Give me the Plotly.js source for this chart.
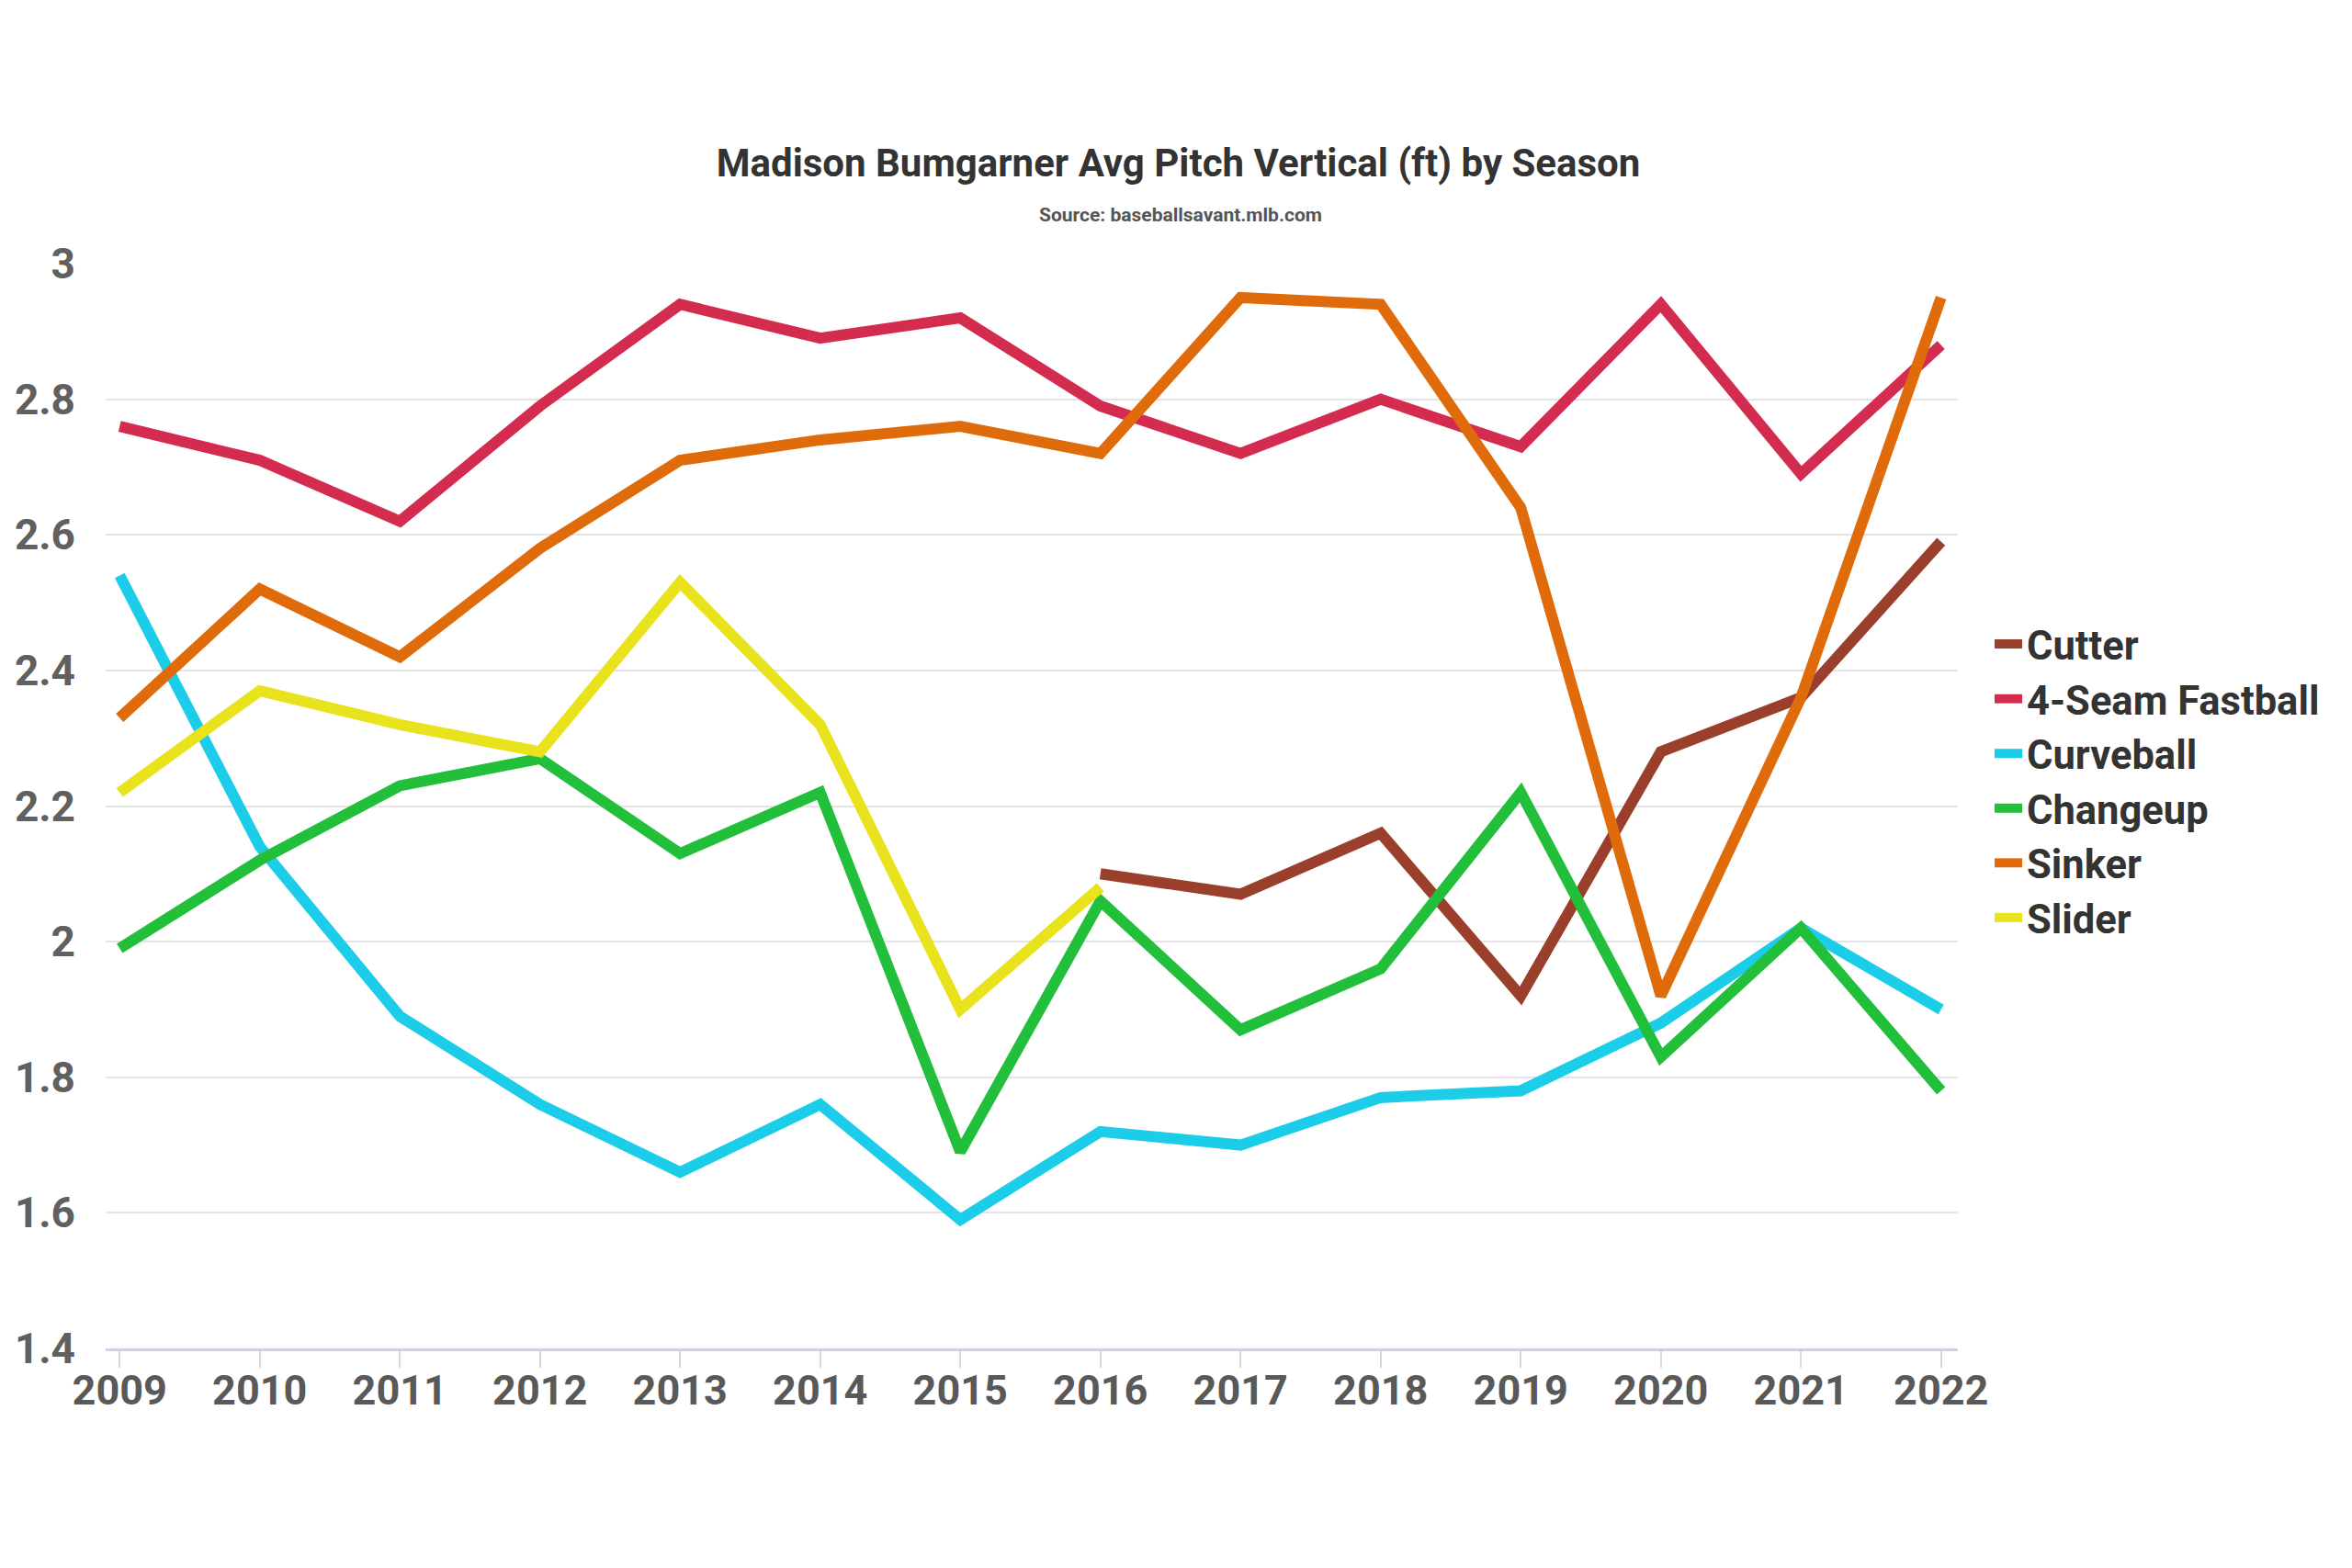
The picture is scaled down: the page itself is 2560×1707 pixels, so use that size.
<!DOCTYPE html>
<html>
<head>
<meta charset="utf-8">
<script src="https://cdn.plot.ly/plotly-3.0.1.min.js"></script>
<style>
  html, body { margin: 0; padding: 0; background: white; }
  #chart { width: 2560px; height: 1707px; }
</style>
</head>
<body>
<div id="chart"></div>
<script>
// Madison Bumgarner avg pitch vertical release (ft) by season
const seasons = [2009, 2010, 2011, 2012, 2013, 2014, 2015, 2016, 2017, 2018, 2019, 2020, 2021, 2022];

const cutter    = [null, null, null, null, null, null, null, 2.10, 2.07, 2.16, 1.92, 2.28, 2.36, 2.59];
const fastball  = [2.76, 2.71, 2.62, 2.79, 2.94, 2.89, 2.92, 2.79, 2.72, 2.80, 2.73, 2.94, 2.69, 2.88];
const curveball = [2.54, 2.14, 1.89, 1.76, 1.66, 1.76, 1.59, 1.72, 1.70, 1.77, 1.78, 1.88, 2.02, 1.90];
const changeup  = [1.99, 2.12, 2.23, 2.27, 2.13, 2.22, 1.69, 2.06, 1.87, 1.96, 2.22, 1.83, 2.02, 1.78];
const sinker    = [2.33, 2.52, 2.42, 2.58, 2.71, 2.74, 2.76, 2.72, 2.95, 2.94, 2.64, 1.92, 2.36, 2.95];
const slider    = [2.22, 2.37, 2.32, 2.28, 2.53, 2.32, 1.90, 2.08, null, null, null, null, null, null];

const pitchNames = ['Cutter', '4-Seam Fastball', 'Curveball', 'Changeup', 'Sinker', 'Slider'];
const pitchValues = [cutter, fastball, curveball, changeup, sinker, slider];
const pitchColors = ['#9a3f2b', '#d42c4f', '#1ccde9', '#22bf3a', '#e06b0b', '#e8e31c'];

const yTicks = [1.4, 1.6, 1.8, 2, 2.2, 2.4, 2.6, 2.8, 3];

const FONT = 'Roboto, "Noto Sans", sans-serif';

const traces = pitchNames.map(function (name, i) {
  return {
    x: seasons,
    y: pitchValues[i],
    name: '<b>' + name + '</b>',
    mode: 'lines',
    connectgaps: false,
    line: { color: pitchColors[i], width: 12 }
  };
});

const plotL = 115, plotR = 429;
const plotW = 2560 - plotL - plotR;

const layout = {
  width: 2560,
  height: 1707,
  paper_bgcolor: 'white',
  plot_bgcolor: 'white',
  margin: { l: plotL, r: plotR, t: 287, b: 239 },
  font: { family: FONT, color: '#333' },
  title: {
    text: '<b>Madison Bumgarner Avg Pitch Vertical (ft) by Season</b>',
    font: { family: FONT, size: 42, color: '#333' },
    x: 0.501,
    xanchor: 'center',
    y: 0.896,
    yanchor: 'middle',
    yref: 'container'
  },
  annotations: [{
    text: '<b>Source: baseballsavant.mlb.com</b>',
    xref: 'paper', yref: 'paper',
    x: (1285 - plotL) / plotW, xanchor: 'center',
    y: 1.045, yanchor: 'middle',
    showarrow: false,
    font: { family: FONT, size: 21, color: '#555' }
  }],
  xaxis: {
    range: [2008.9, 2022.12],
    tickmode: 'array',
    tickvals: seasons,
    ticktext: seasons.map(function (s) { return '<b>' + s + '</b>'; }),
    showgrid: false,
    zeroline: false,
    showline: true,
    linecolor: '#ccd3df',
    linewidth: 3,
    ticks: 'outside',
    ticklen: 18,
    tickwidth: 2,
    tickcolor: '#d3d8e4',
    ticklabelstandoff: -14,
    tickfont: { family: FONT, size: 45, color: '#595959' },
    fixedrange: true
  },
  yaxis: {
    range: [1.4, 3],
    tickmode: 'array',
    tickvals: yTicks,
    ticktext: yTicks.map(function (v) { return '<b>' + v + '</b>'; }),
    showgrid: true,
    gridcolor: '#e4e4e4',
    gridwidth: 2,
    zeroline: false,
    showline: false,
    ticks: '',
    ticklabelstandoff: 32,
    tickfont: { family: FONT, size: 46, color: '#606060' },
    fixedrange: true
  },
  showlegend: true,
  legend: {
    x: (2166 - plotL) / plotW,
    xanchor: 'left',
    y: 0.523,
    yanchor: 'middle',
    font: { family: FONT, size: 43.5, color: '#333' },
    itemwidth: 30,
    bgcolor: 'rgba(0,0,0,0)',
    traceorder: 'normal'
  }
};

Plotly.newPlot('chart', traces, layout, { displayModeBar: false, staticPlot: true });
</script>
</body>
</html>
